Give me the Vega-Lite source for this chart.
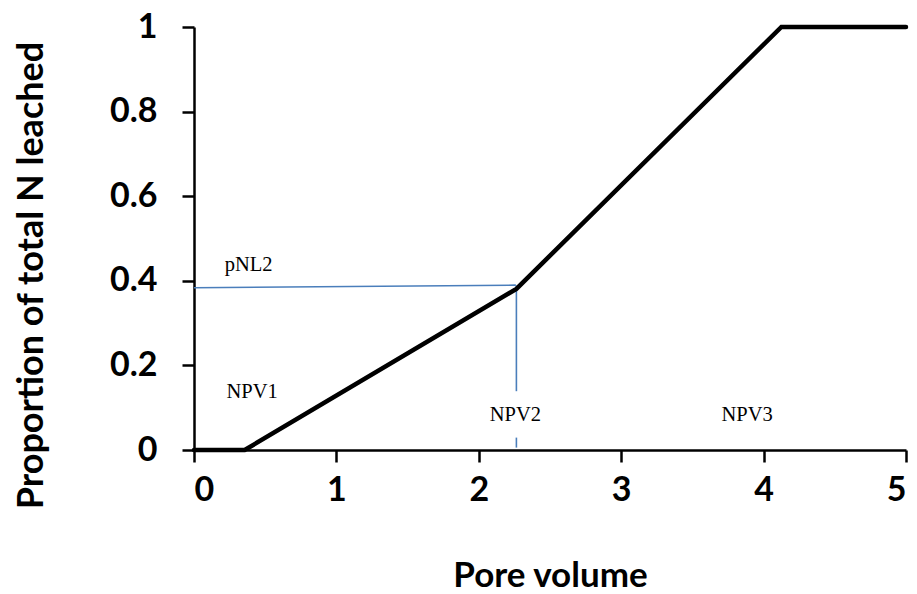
{
  "$schema": "https://vega.github.io/schema/vega-lite/v6.json",
  "width": 712,
  "height": 423,
  "autosize": {"type": "none"},
  "padding": {"left": 194, "top": 27, "right": 11, "bottom": 144},
  "background": "white",
  "config": {
    "view": {"stroke": null},
    "axis": {
      "grid": false,
      "domainColor": "black",
      "domainWidth": 2.5,
      "tickColor": "black",
      "tickWidth": 2.5,
      "tickSize": 12,
      "labelFont": "Lato",
      "labelFontWeight": "bold",
      "labelFontSize": 34,
      "labelColor": "black",
      "titleFont": "Lato",
      "titleFontWeight": "bold",
      "titleFontSize": 35,
      "titleColor": "black"
    }
  },
  "datasets": {
    "curve": [
      {"pv": 0, "p": 0, "o": 1},
      {"pv": 0.356, "p": 0, "o": 2},
      {"pv": 2.264, "p": 0.381, "o": 3},
      {"pv": 4.125, "p": 1, "o": 4},
      {"pv": 5, "p": 1, "o": 5}
    ],
    "guides": [
      {"xa": 0, "ya": 0.3836, "xb": 2.26, "yb": 0.3897},
      {"xa": 2.264, "ya": 0.389, "xb": 2.264, "yb": 0.139},
      {"xa": 2.264, "ya": 0.0293, "xb": 2.264, "yb": 0.0057}
    ],
    "labels": [
      {"lx": 0.216, "ly": 0.424, "t": "pNL2"},
      {"lx": 0.228, "ly": 0.124, "t": "NPV1"},
      {"lx": 2.077, "ly": 0.0685, "t": "NPV2"},
      {"lx": 3.704, "ly": 0.0685, "t": "NPV3"}
    ]
  },
  "layer": [
    {
      "data": {"name": "guides"},
      "mark": {"type": "rule", "color": "#4a7ebb", "strokeWidth": 1.6},
      "encoding": {
        "x": {"field": "xa", "type": "quantitative", "scale": {"domain": [0, 5], "nice": false}},
        "y": {"field": "ya", "type": "quantitative", "scale": {"domain": [0, 1], "nice": false}},
        "x2": {"field": "xb"},
        "y2": {"field": "yb"}
      }
    },
    {
      "data": {"name": "curve"},
      "mark": {"type": "line", "color": "black", "strokeWidth": 4.5, "strokeCap": "round", "strokeJoin": "miter"},
      "encoding": {
        "x": {
          "field": "pv", "type": "quantitative",
          "scale": {"domain": [0, 5], "nice": false},
          "axis": {
            "title": "Pore volume",
            "values": [0, 1, 2, 3, 4, 5],
            "format": "d",
            "labelPadding": 11,
            "titleX": 356,
            "titleY": 136,
            "titleAlign": "center",
            "titleBaseline": "alphabetic"
          }
        },
        "y": {
          "field": "p", "type": "quantitative",
          "scale": {"domain": [0, 1], "nice": false},
          "axis": {
            "title": "Proportion of total N leached",
            "values": [0, 0.2, 0.4, 0.6, 0.8, 1],
            "format": "~g",
            "labelPadding": 25,
            "titleAngle": -90,
            "titleFontSize": 36,
            "titleX": -152,
            "titleY": 248,
            "titleAlign": "center",
            "titleBaseline": "alphabetic"
          }
        },
        "order": {"field": "o", "type": "quantitative"}
      }
    },
    {
      "data": {"name": "labels"},
      "mark": {"type": "text", "font": "Liberation Serif", "fontSize": 20.5, "color": "black", "align": "left", "baseline": "alphabetic"},
      "encoding": {
        "x": {"field": "lx", "type": "quantitative"},
        "y": {"field": "ly", "type": "quantitative"},
        "text": {"field": "t"}
      }
    }
  ]
}
